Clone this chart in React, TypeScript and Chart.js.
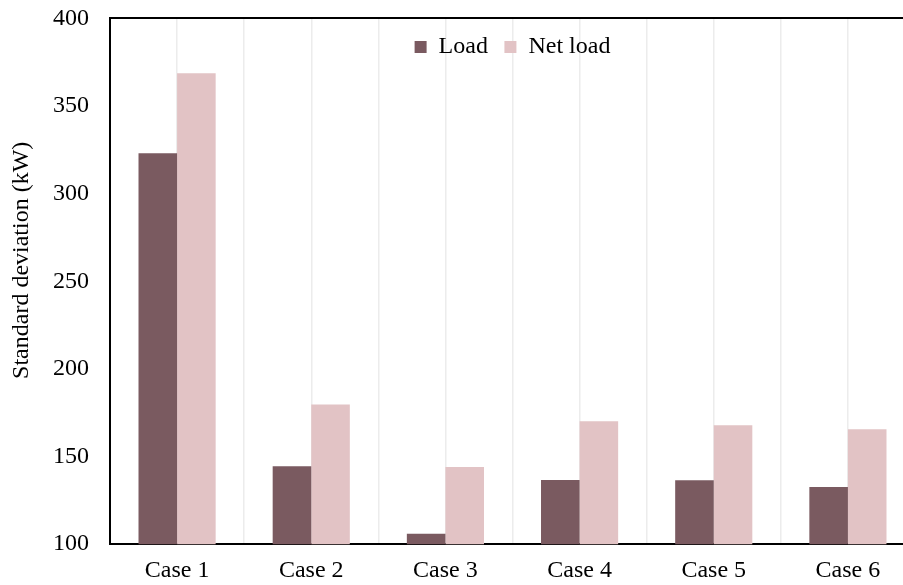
import React, { useEffect, useRef } from "react";
import { Chart, registerables } from "chart.js";

Chart.register(...registerables);

const categories = ["Case 1", "Case 2", "Case 3", "Case 4", "Case 5", "Case 6"];
const loadValues = [323, 144.5, 106, 136.7, 136.5, 132.7];
const netLoadValues = [368.7, 179.7, 144.1, 170.2, 167.9, 165.6];
const seriesNames = ["Load", "Net load"];
const yMin = 100;
const yMax = 400;
const yStep = 50;
const yTitle = "       Standard deviation (kW)";

const FONT = "'Liberation Serif', 'Times New Roman', serif";
const FS = 24;

const legendInPlot = {
  id: "legendInPlot",
  beforeLayout(chart: any) {
    if (chart.legend) chart.legend.isHorizontal = () => true;
  },
  afterLayout(chart: any) {
    const lg = chart.legend;
    if (!lg) return;
    lg.left = chart.chartArea.left;
    lg.right = chart.chartArea.right;
    lg.width = lg.right - lg.left;
    lg.top = chart.chartArea.top;
  },
};

export default function App() {
  const ref = useRef<HTMLCanvasElement | null>(null);

  useEffect(() => {
    if (!ref.current) return;
    const chart = new Chart(ref.current, {
      type: "bar",
      data: {
        labels: categories,
        datasets: [
          {
            label: seriesNames[0],
            data: loadValues,
            backgroundColor: "#7a5a60",
            borderWidth: 0,
            xAxisID: "x",
          },
          {
            label: seriesNames[1],
            data: netLoadValues,
            backgroundColor: "#e2c3c5",
            borderWidth: 0,
            xAxisID: "x",
          },
        ],
      },
      plugins: [legendInPlot],
      options: {
        animation: false,
        responsive: false,
        datasets: {
          bar: { categoryPercentage: 0.575, barPercentage: 1 },
        },
        layout: { padding: { left: 0, right: 5, top: 1, bottom: 3 } },
        plugins: {
          legend: {
            position: "chartArea",
            align: "center",
            labels: {
              boxWidth: 12,
              boxHeight: 12,
              padding: 16.5,
              color: "#000",
              font: { family: FONT, size: FS },
            },
          },
          tooltip: { enabled: false },
        },
        scales: {
          x: {
            type: "category",
            position: "bottom",
            offset: true,
            grid: {
              offset: false,
              color: "#ececec",
              lineWidth: 1.5,
              drawTicks: false,
            },
            border: { display: true, color: "#000", width: 2 },
            ticks: {
              color: "#000",
              padding: 12,
              font: { family: FONT, size: FS },
              maxRotation: 0,
            },
          },
          x2: {
            type: "category",
            position: "top",
            labels: categories,
            offset: true,
            grid: {
              offset: true,
              color: "#ececec",
              lineWidth: 1.5,
              drawTicks: false,
            },
            border: { display: true, color: "#000", width: 2 },
            ticks: { display: false },
          },
          y: {
            min: yMin,
            max: yMax,
            ticks: {
              stepSize: yStep,
              color: "#000",
              padding: 21,
              font: { family: FONT, size: FS },
            },
            grid: { display: false, drawTicks: false },
            border: { display: true, color: "#000", width: 2 },
            title: {
              display: true,
              text: yTitle,
              color: "#000",
              padding: { top: 7.6, bottom: 0 },
              font: { family: FONT, size: FS },
            },
            afterFit: (scale: any) => {
              scale.width = 110;
            },
          },
        },
      },
    });
    return () => chart.destroy();
  }, []);

  return (
    <div
      style={{
        position: "fixed",
        left: 0,
        top: 0,
        width: 903,
        height: 585,
        overflow: "hidden",
        background: "#fff",
      }}
    >
      <canvas
        ref={ref}
        width={920}
        height={617}
        style={{ display: "block", marginTop: -17 }}
      />
    </div>
  );
}
